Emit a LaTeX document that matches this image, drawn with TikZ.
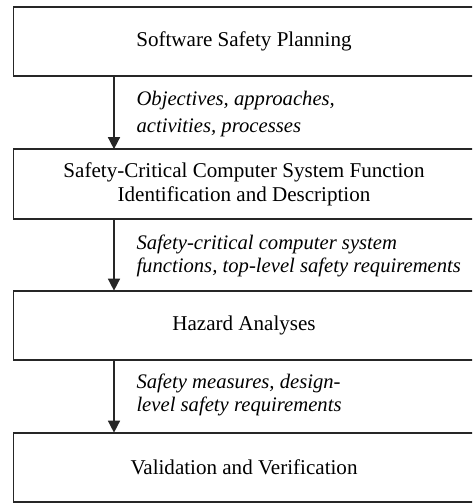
\documentclass[tikz,border=0pt]{standalone}
\usepackage{fontspec}
\setmainfont{Liberation Serif}
\usetikzlibrary{arrows.meta}

\tikzset{every picture/.style={line width=0.75pt}}
\tikzset{
  stagebox/.style={minimum width=345pt, minimum height=51.5pt,
    align=center, inner sep=0pt, font=\fontsize{15.8}{18}\selectfont},
  boxline/.style={draw=black!85, line width=1.3pt},
  flowlabel/.style={anchor=west, align=left, inner sep=0pt, font=\fontsize{15.5}{17.3}\selectfont\itshape},
  flow/.style={draw=black!85, line width=1.1pt, -{Triangle[length=9pt,width=9pt]}}
}

\begin{document}
\begin{tikzpicture}[x=0.75pt,y=0.75pt,yscale=-1,xscale=1]
\clip (0,0) rectangle (472,503);
\fill[white] (0,0) rectangle (472,503);

%Stages
\node[stagebox] (plan) at (244,41.5) {Software Safety Planning};
\node[stagebox] (ident) at (244,184) {Safety-Critical Computer System Function\\Identification and Description};
\node[stagebox] (hazard) at (244,325.5) {Hazard Analyses};
\node[stagebox] (vv) at (244,467.5) {Validation and Verification};

%Boxes run off the right edge
\foreach \n in {plan,ident,hazard,vv}
  \draw[boxline] (\n.south west) rectangle ([xshift=15pt]\n.north east);

%Arrow column
\coordinate (ax) at (114,0);

%Flows
\draw[flow] (plan.south -| ax) -- (ident.north -| ax);
\draw[flow] (ident.south -| ax) -- (hazard.north -| ax);
\draw[flow] (hazard.south -| ax) -- (vv.north -| ax);

% Text Node
\node[flowlabel] (out1) at (136,114) {Objectives, approaches,\\[3pt]activities, processes};
% Text Node
\node[flowlabel] (out2) at (136,256) {Safety-critical computer system\\functions, top-level safety requirements};
% Text Node
\node[flowlabel] (out3) at (136,394.5) {Safety measures, design-\\level safety requirements};
\end{tikzpicture}
\end{document}
